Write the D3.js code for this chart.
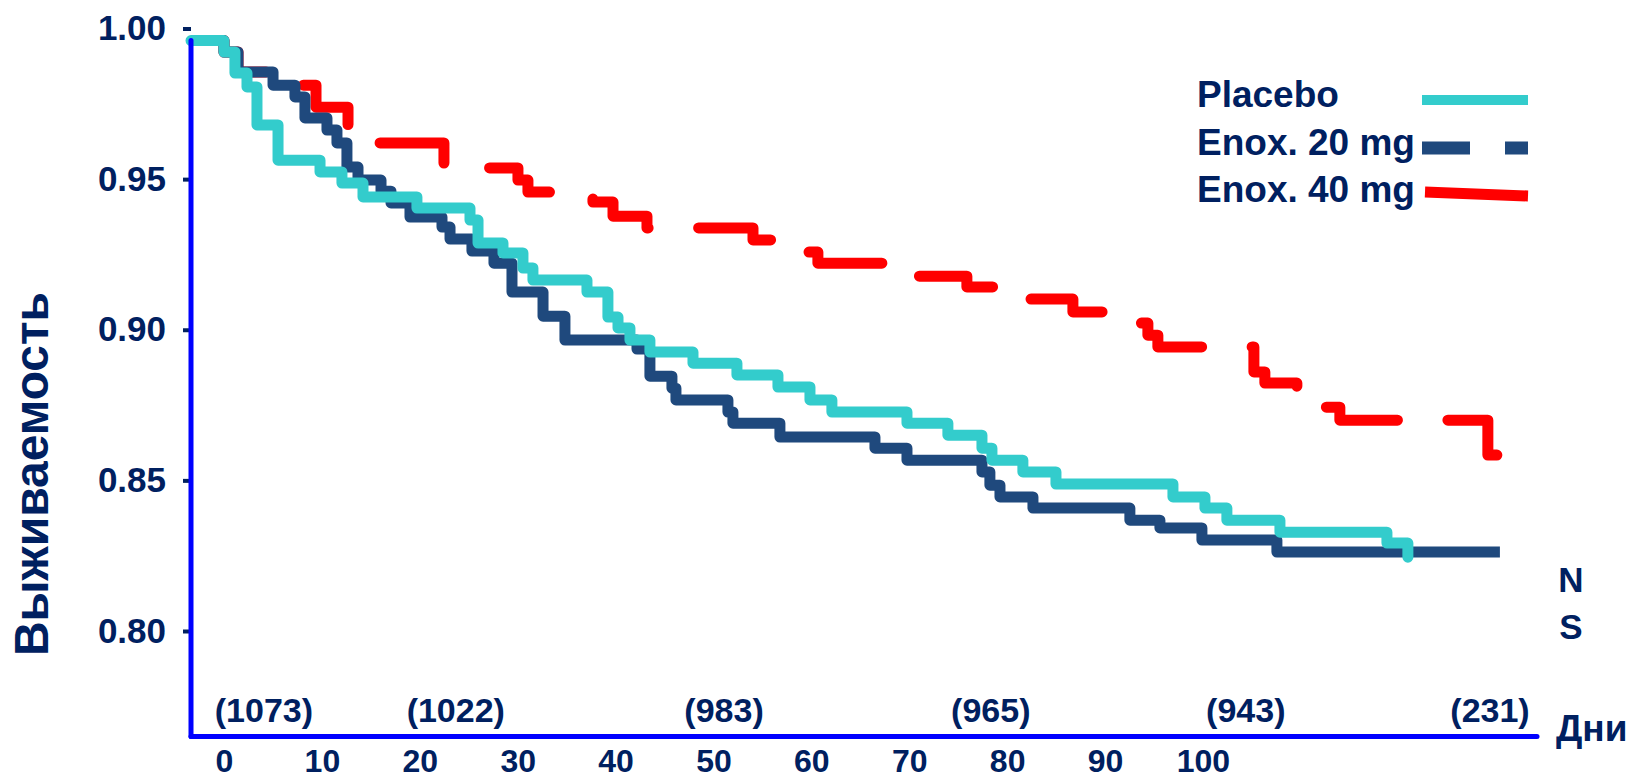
<!DOCTYPE html>
<html>
<head>
<meta charset="utf-8">
<script src="https://cdn.jsdelivr.net/npm/d3@7/dist/d3.min.js"></script>
<style>
    html, body { margin: 0; padding: 0; background: #fff; }
    svg { display: block; }
    text { font-family: "Liberation Sans", Arial, sans-serif; font-weight: bold; fill: #002060; }
</style>
</head>
<body>
<div id="chart"></div>
<script>
const placeboDays = [0, 3.37, 4.49, 5.72, 6.74, 8.89, 13.18, 15.42, 17.57, 23.08, 28.5, 29.32, 31.87, 33.91, 34.93, 40.45, 42.59, 43.62, 44.84, 46.88, 51.28, 55.77, 59.96, 63.23, 65.47, 73.14, 77.32, 80.8, 81.82, 84.98, 88.36, 100.31, 103.58, 105.82, 111.24, 122.17, 124.31]
const placeboSurv = [0.996, 0.9922, 0.9852, 0.9806, 0.968, 0.9563, 0.9524, 0.9487, 0.9441, 0.9404, 0.9364, 0.9288, 0.9255, 0.9205, 0.9165, 0.9125, 0.9042, 0.9006, 0.8966, 0.8926, 0.8889, 0.885, 0.881, 0.8767, 0.8727, 0.869, 0.865, 0.8607, 0.8567, 0.8528, 0.8488, 0.8445, 0.8408, 0.8368, 0.8328, 0.8292, 0.8245]

const enox20Days = [0, 3.37, 4.8, 8.38, 10.62, 11.64, 13.89, 14.91, 15.93, 17.06, 19.41, 20.43, 22.37, 25.64, 26.46, 28.7, 30.95, 32.79, 35.96, 38.2, 45.56, 46.88, 49.13, 49.54, 54.85, 55.36, 60.16, 69.87, 73.14, 80.8, 81.61, 82.64, 86.01, 95.91, 98.98, 103.27, 110.93, 133.71]
const enox20Surv = [0.996, 0.9922, 0.9856, 0.9812, 0.9773, 0.9703, 0.9663, 0.962, 0.954, 0.9497, 0.946, 0.9421, 0.9374, 0.9341, 0.9301, 0.9261, 0.9221, 0.9125, 0.9045, 0.8966, 0.8936, 0.8846, 0.8806, 0.8767, 0.8727, 0.869, 0.8644, 0.8607, 0.8567, 0.8528, 0.8484, 0.8445, 0.8408, 0.8368, 0.8342, 0.8302, 0.8262, 0.8262]

const enox40Days = [0, 3.37, 4.8, 8.38, 12.77, 16.04, 19.0, 25.84, 33.4, 34.42, 41.06, 43.11, 46.58, 57.41, 59.65, 64.04, 71.91, 79.26, 82.64, 90.09, 93.87, 97.75, 98.77, 108.58, 109.7, 112.97, 117.36, 132.48, 133.4]
const enox40Surv = [0.996, 0.9922, 0.9856, 0.9812, 0.9739, 0.9656, 0.962, 0.9537, 0.9497, 0.9457, 0.9424, 0.9377, 0.9338, 0.9298, 0.9258, 0.9221, 0.9178, 0.9142, 0.9102, 0.9059, 0.9022, 0.8982, 0.8943, 0.886, 0.8823, 0.8743, 0.87, 0.8584, 0.8584]

const xTicks = [0, 10, 20, 30, 40, 50, 60, 70, 80, 90, 100]
const yTicks = [0.80, 0.85, 0.90, 0.95, 1.00]
const atRiskDays = [7.45, 27.05, 54.45, 81.7, 107.75, 132.7]
const atRiskLabels = ["(1073)", "(1022)", "(983)", "(965)", "(943)", "(231)"]
const seriesNames = ["Placebo", "Enox. 20 mg", "Enox. 40 mg"]

class KMChart {
    constructor(width = 1632, height = 779) {
        [this.c_width, this.c_height] = [width, height]
        this.svg = null
        this.x = d3.scaleLinear().domain([0, 137.5]).range([191, 1537])
        this.y = d3.scaleLinear().domain([0.80, 1.00]).range([631, 28.5])
        this.yFloor = 0.765
        this.colors = ['#33cccc', '#1f497d', '#ff0000']
    }
    init(id) {
        this.svg = d3.select(id).append('svg')
        .attr('width', this.c_width)
        .attr('height', this.c_height)
    }
    /* step line */
    line() {
        return d3.line()
        .x(d => this.x(d[0]))
        .y(d => this.y(d[1]))
        .curve(d3.curveStepAfter)
    }
    drawCurve(days, surv, color, opts) {
        let path = this.svg.append('path')
        .datum(days.map((d, i) => [d, surv[i]]))
        .attr('d', this.line())
        .attr('fill', 'none')
        .attr('stroke', color)
        .attr('stroke-width', 11)
        .attr('stroke-linejoin', 'round')
        .attr('stroke-linecap', opts.cap || 'round')
        if (opts.dash) {
            path.attr('stroke-dasharray', opts.dash)
            .attr('stroke-dashoffset', opts.offset)
        }
        return path
    }
    draw() {
        this.drawCurve(enox40Days, enox40Surv, this.colors[2], { dash: '84 50.5', offset: -22.5 })
        this.drawCurve(enox20Days, enox20Surv, this.colors[1], { cap: 'butt' })
        this.drawCurve(placeboDays, placeboSurv, this.colors[0], {})
        this.drawAxes()
        this.addText()
        this.drawLegend()
    }
    drawAxes() {
        let x0 = this.x(0), yb = this.y(this.yFloor)

        let gy = this.svg.append('g')
        .attr('transform', `translate(${x0},0)`)
        .call(d3.axisLeft(this.y).tickValues(yTicks).tickFormat(d3.format('.2f')).tickSize(8).tickPadding(17))
        gy.select('.domain').remove()
        gy.selectAll('line').attr('stroke', '#002060').attr('stroke-width', 4)
        gy.selectAll('text').style('font-size', '35px').attr('font-family', null)

        let gx = this.svg.append('g')
        .attr('transform', `translate(0,${yb})`)
        .call(d3.axisBottom(this.x).tickValues(xTicks).tickSize(0))
        gx.select('.domain').remove()
        gx.selectAll('text')
        .attr('y', 36)
        .attr('dy', 0)
        .attr('dx', 33)
        .style('font-size', '32px')

        this.svg.append('line')
        .attr('x1', x0).attr('x2', x0)
        .attr('y1', this.y(placeboSurv[0])).attr('y2', yb)
        .attr('stroke', '#0000ff').attr('stroke-width', 5).attr('stroke-linecap', 'round')

        this.svg.append('line')
        .attr('x1', x0).attr('x2', this.x(137.5))
        .attr('y1', yb).attr('y2', yb)
        .attr('stroke', '#0000ff').attr('stroke-width', 5).attr('stroke-linecap', 'round')
    }
    addText() {
        this.svg.selectAll('.risk')
        .data(atRiskLabels)
        .enter()
        .append('text')
        .attr('class', 'risk')
        .attr('x', (d, i) => this.x(atRiskDays[i]))
        .attr('y', 722)
        .style('font-size', '34px')
        .style('text-anchor', 'middle')
        .text(d => d)

        this.svg.append('text')
        .attr('transform', 'translate(48,474) rotate(-90)')
        .style('font-size', '48px')
        .style('text-anchor', 'middle')
        .text('Выживаемость')

        this.svg.append('text')
        .attr('x', 1556).attr('y', 741)
        .style('font-size', '37px')
        .text('Дни')

        this.svg.append('text').attr('x', 1571).attr('y', 592)
        .style('font-size', '35px').style('text-anchor', 'middle').text('N')
        this.svg.append('text').attr('x', 1571).attr('y', 639)
        .style('font-size', '35px').style('text-anchor', 'middle').text('S')
    }
    drawLegend() {
        let g = this.svg.append('g')
        g.selectAll('text')
        .data(seriesNames)
        .enter()
        .append('text')
        .attr('x', 1197)
        .attr('y', (d, i) => 107 + i * 47.5)
        .style('font-size', '37px')
        .text(d => d)

        g.append('line').attr('x1', 1422).attr('x2', 1528).attr('y1', 100).attr('y2', 100)
        .attr('stroke', this.colors[0]).attr('stroke-width', 10)
        g.append('line').attr('x1', 1422).attr('x2', 1528).attr('y1', 148).attr('y2', 148)
        .attr('stroke', this.colors[1]).attr('stroke-width', 13).attr('stroke-dasharray', '48 35')
        g.append('line').attr('x1', 1425).attr('x2', 1528).attr('y1', 192).attr('y2', 196)
        .attr('stroke', this.colors[2]).attr('stroke-width', 11)
    }
}

let chart = new KMChart()
chart.init('#chart')
chart.draw()
</script>
</body>
</html>
